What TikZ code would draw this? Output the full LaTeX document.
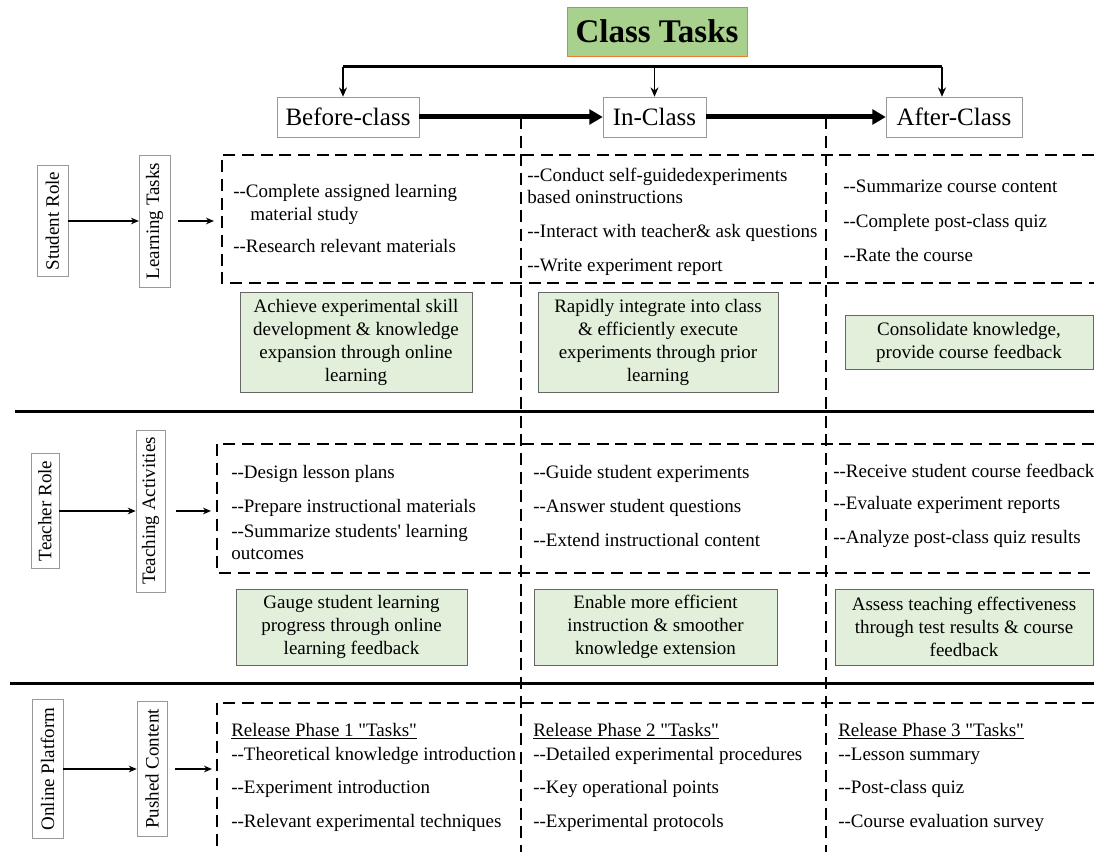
\documentclass[tikz,border=0pt]{standalone}
\usepackage{fontspec}
\setmainfont{Liberation Serif}[Ligatures=TeXOff]
\usetikzlibrary{arrows.meta,positioning}
\definecolor{titlefill}{RGB}{169,209,142}
\definecolor{titleline}{RGB}{237,125,49}
\definecolor{goalfill}{RGB}{226,239,218}

\begin{document}
\begin{tikzpicture}[x=0.75pt,y=-0.75pt,
	  every node/.style={font=\fontsize{14.25}{17}\selectfont,inner sep=0pt},
	  title/.style={draw=titleline,fill=titlefill,font=\fontsize{24.75}{28}\bfseries\selectfont,minimum width=135pt,minimum height=36.75pt},
	  stage/.style={draw=gray!80,font=\fontsize{18.75}{22}\selectfont,minimum height=30pt},
	  role/.style={draw=gray!80,rotate=90,minimum height=23pt},
	  goal/.style={draw=gray!80!black,fill=goalfill,align=center,font=\fontsize{14.25}{17.25}\selectfont},
	  item/.style={anchor=base west},
	  bar/.style={line width=2.25pt},
	  down/.style={line width=1.1pt,-{Stealth[length=7pt,width=6pt]}},
	  flow/.style={line width=3.75pt,-{Triangle[length=10pt,width=11pt]}},
	  link/.style={line width=1.5pt,-{Stealth[length=6pt,width=5pt]}},
	  sep/.style={line width=2.25pt},
	  grid/.style={line width=1.5pt,dash pattern=on 9pt off 5pt}]

	  \useasboundingbox (0,0) rectangle (1094,852);

	  % Title and the three stages
	  \node[title] (title) at (657,31.5) {Class Tasks};
	  \node[stage,minimum width=106.5pt] (before) at (348,117) {Before-class};
	  \node[stage,minimum width=77.25pt] (inclass) at (654.5,117) {In-Class};
	  \node[stage,minimum width=102pt] (after) at (954,117) {After-Class};

	  \coordinate (barL) at (343,67);
	  \coordinate (barM) at (654.5,67);
	  \coordinate (barR) at (942,67);
	  \draw[bar] (barL) -- (barR);
	  \draw[down] (barL) -- (barL |- before.north);
	  \draw[down] (barM) -- (barM |- inclass.north);
	  \draw[down] (barR) -- (barR |- after.north);

	  % Stage borders and row separators
	  \draw[grid] (521,117) -- (521,852);
	  \draw[grid] (826,117) -- (826,852);
	  \draw[sep] (15,411) -- (1094,411);
	  \draw[sep] (10,683) -- (1094,683);
	  \draw[grid] (1094,155) -- (222,155) -- (222,283) -- (1094,283);
	  \draw[grid] (1094,444) -- (217,444) -- (217,573) -- (1094,573);
	  \draw[grid] (1094,703) -- (217,703) -- (217,852);

	  \draw[flow] (before) -- (inclass);
	  \draw[flow] (inclass) -- (after);

	  % Student row
	  \node[role,minimum width=83.25pt] (student) at (52.5,221) {Student Role};
	  \node[role,minimum width=99pt] (learn) at (154.5,221) {Learning Tasks};
	  \coordinate (learnout) at (178,221);
	  \coordinate (learnin) at (214,221);
	  \draw[link] (student) -- (learn);
	  \draw[link] (learnout) -- (learnin);

	  \node[item] (sb1) at (233,198) {--Complete assigned learning};
	  \node[item] (sb2) at (250,220) {material study};
	  \node[item] (sb3) at (233,252) {--Research relevant materials};
	  \node[item] (si1) at (527,182) {--Conduct self-guidedexperiments};
	  \node[item] (si2) at (527,204) {based oninstructions};
	  \node[item] (si3) at (527,237) {--Interact with teacher\& ask questions};
	  \node[item] (si4) at (527,271) {--Write experiment report};
	  \node[item] (sa1) at (843,193) {--Summarize course content};
	  \node[item] (sa2) at (843,227) {--Complete post-class quiz};
	  \node[item] (sa3) at (843,261) {--Rate the course};

	  \node[goal,minimum width=174pt,minimum height=75pt] (sgoalb) at (356,342) {Achieve experimental skill\\development \& knowledge\\expansion through online\\learning};
	  \node[goal,minimum width=180pt,minimum height=75pt] (sgoali) at (658,342) {Rapidly integrate into class\\\& efficiently execute\\experiments through prior\\learning};
	  \node[goal,minimum width=186pt,minimum height=40.5pt] (sgoala) at (969,342) {Consolidate knowledge,\\provide course feedback};

	  % Teacher row
	  \node[role,minimum width=86.25pt,minimum height=21pt] (teacher) at (45,511) {Teacher Role};
	  \node[role,minimum width=121.5pt,minimum height=21.75pt] (teach) at (150.5,511) {Teaching Activities};
	  \coordinate (teachout) at (176,511);
	  \coordinate (teachin) at (211,511);
	  \draw[link] (teacher) -- (teach);
	  \draw[link] (teachout) -- (teachin);

	  \node[item] (tb1) at (231,478) {--Design lesson plans};
	  \node[item] (tb2) at (231,512) {--Prepare instructional materials};
	  \node[item] (tb3) at (231,537) {--Summarize students' learning};
	  \node[item] (tb4) at (231,559) {outcomes};
	  \node[item] (ti1) at (533,478) {--Guide student experiments};
	  \node[item] (ti2) at (533,512) {--Answer student questions};
	  \node[item] (ti3) at (533,546) {--Extend instructional content};
	  \node[item] (ta1) at (833,477) {--Receive student course feedback};
	  \node[item] (ta2) at (833,509) {--Evaluate experiment reports};
	  \node[item] (ta3) at (833,543) {--Analyze post-class quiz results};

	  \node[goal,minimum width=173.25pt,minimum height=57pt] (tgoalb) at (351.5,627) {Gauge student learning\\progress through online\\learning feedback};
	  \node[goal,minimum width=182.25pt,minimum height=57pt] (tgoali) at (655.5,627) {Enable more efficient\\instruction \& smoother\\knowledge extension};
	  \node[goal,minimum width=193.5pt,minimum height=57pt] (tgoala) at (964,627) {Assess teaching effectiveness\\through test results \& course\\feedback};

	  % Platform row
	  \node[role,minimum width=104.25pt] (platform) at (47.5,769) {Online Platform};
	  \node[role,minimum width=101.25pt,minimum height=22.5pt] (pushed) at (152,769) {Pushed Content};
	  \coordinate (pushout) at (175,769);
	  \coordinate (pushin) at (212,769);
	  \draw[link] (platform) -- (pushed);
	  \draw[link] (pushout) -- (pushin);

	  \node[item] (pb0) at (231,736) {\underline{Release Phase 1 "Tasks"}};
	  \node[item] (pb1) at (231,760) {--Theoretical knowledge introduction};
	  \node[item] (pb2) at (231,793) {--Experiment introduction};
	  \node[item] (pb3) at (231,827) {--Relevant experimental techniques};
	  \node[item] (pi0) at (533,736) {\underline{Release Phase 2 "Tasks"}};
	  \node[item] (pi1) at (533,760) {--Detailed experimental procedures};
	  \node[item] (pi2) at (533,793) {--Key operational points};
	  \node[item] (pi3) at (533,827) {--Experimental protocols};
	  \node[item] (pa0) at (838,736) {\underline{Release Phase 3 "Tasks"}};
	  \node[item] (pa1) at (838,760) {--Lesson summary};
	  \node[item] (pa2) at (838,793) {--Post-class quiz};
	  \node[item] (pa3) at (838,827) {--Course evaluation survey};
\end{tikzpicture}
\end{document}
